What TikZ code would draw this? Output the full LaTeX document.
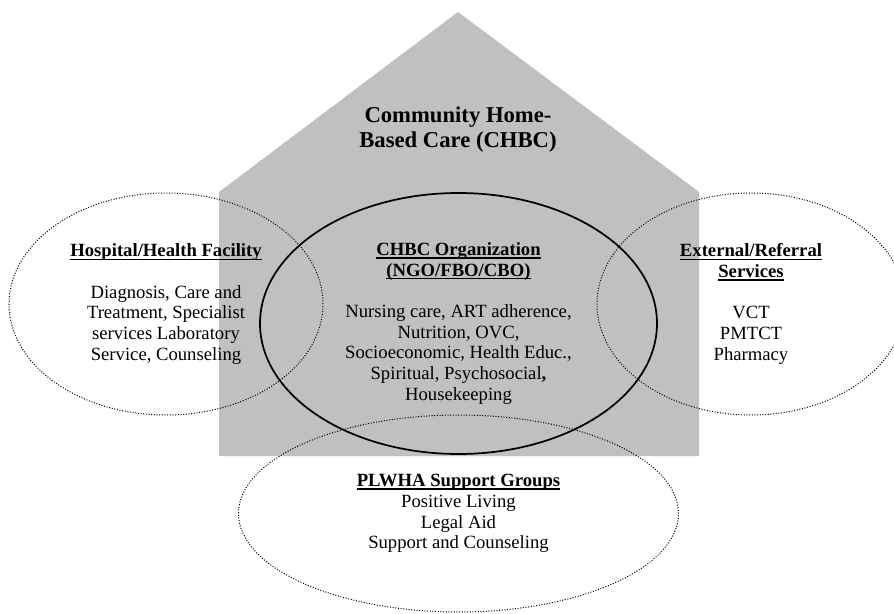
\documentclass[tikz,border=0pt]{standalone}
\usepackage{fontspec}
\setmainfont{Liberation Serif}
\usetikzlibrary{shapes.geometric}
\definecolor{housegray}{RGB}{192,192,192}
\newcommand{\hdline}[1]{\textbf{\setbox0\hbox{#1}\rlap{\rule[-2.4pt]{\wd0}{1.1pt}}\box0}}

\begin{document}
\begin{tikzpicture}[x=0.75pt, y=-0.75pt, font=\fontsize{14}{15.5}\selectfont]
  \tikzstyle{ring}=[ellipse, draw, line width=0.75pt, dash pattern=on 0.75pt off 1.25pt, align=center, inner sep=0pt]
  \tikzstyle{core}=[ellipse, draw, line width=1.3pt, align=center, inner sep=0pt]
  \tikzstyle{head}=[font=\fontsize{17}{18.75}\selectfont\bfseries, align=center, inner sep=0pt]
  \useasboundingbox (0,0) rectangle (894,614);
  \fill[housegray] (219,192) -- (458,12) -- (699,192) -- (699,456) -- (219,456) -- cycle;
  \node[head] (chbc) at (458,130) {Community Home-\\Based Care (CHBC)};
  \node[ring, minimum width=235.5pt, minimum height=166.5pt] (hosp) at (166,304)
    {\hdline{Hospital/Health Facility}\\[15.5pt]Diagnosis, Care and\\Treatment, Specialist\\services Laboratory\\Service, Counseling};
  \node[ring, minimum width=231pt, minimum height=166.5pt] (ext) at (751,304)
    {\hdline{External/Referral}\\\hdline{Services}\\[15.5pt]VCT\\PMTCT\\Pharmacy};
  \node[ring, minimum width=330pt, minimum height=147.75pt] (plwha) at (458.5,513.5)
    {\hdline{PLWHA Support Groups}\\Positive Living\\Legal Aid\\Support and Counseling};
  \node[core, minimum width=297.75pt, minimum height=195.75pt] (org) at (458.5,323.5)
    {\hdline{CHBC Organization}\\\hdline{(NGO/FBO/CBO)}\\[15.5pt]Nursing care, ART adherence,\\Nutrition, OVC,\\Socioeconomic, Health Educ.,\\Spiritual, Psychosocial\textbf{,}\\Housekeeping};
\end{tikzpicture}
\end{document}
